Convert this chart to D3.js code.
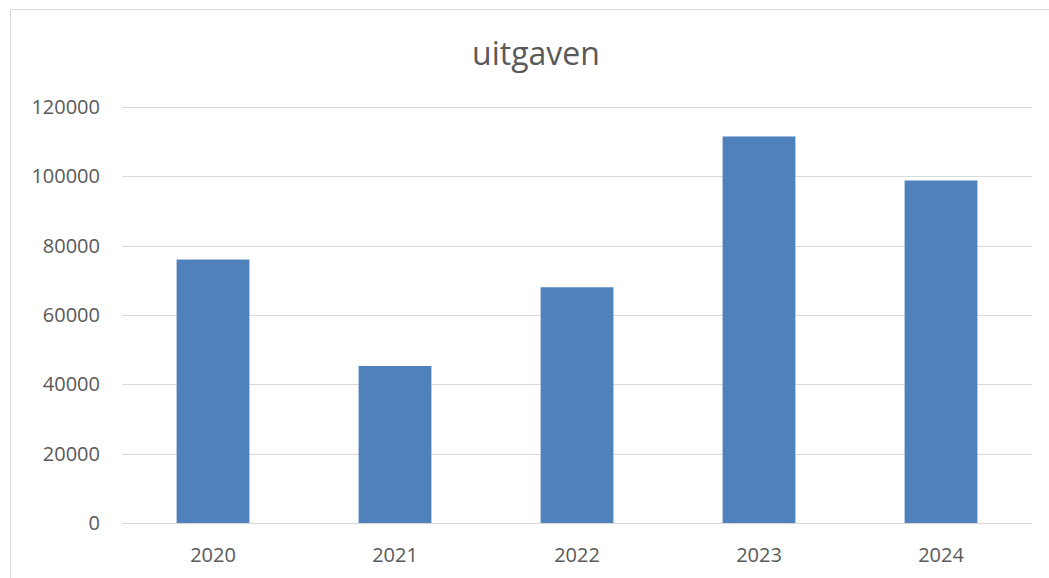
<!DOCTYPE html>
<html>
<head>
<meta charset="utf-8">
<script src="https://cdn.jsdelivr.net/npm/d3@7"></script>
<style>
  body { margin: 0; background: #fff; }
  text { font-family: "Open Sans", "Noto Sans", sans-serif; fill: #595959; }
</style>
</head>
<body>
<div id="chart"></div>
<script>
// data
const years = ["2020", "2021", "2022", "2023", "2024"]
const uitgaven = [76000, 45300, 68000, 111500, 98800]
const yTicks = [0, 20000, 40000, 60000, 80000, 100000, 120000]

const width = 1049
const height = 578
const margin = { top: 107, bottom: 55, right: 17, left: 122 }

const svg = d3.select("div#chart").append("svg").attr("width", width).attr("height", height)

// chart border (extends beyond window right/bottom)
svg.append("rect")
    .attr("x", 10.5).attr("y", 9.5)
    .attr("width", 1200).attr("height", 800)
    .attr("fill", "none").attr("stroke", "#d9d9d9").attr("stroke-width", 1)

const x = d3.scaleBand().domain(years).range([margin.left, width - margin.right]).paddingInner(0.6).paddingOuter(0.3)
const y = d3.scaleLinear().domain([0, 120000]).range([height - margin.bottom, margin.top])

// gridlines
svg.append("g").selectAll("line").data(yTicks).join("line")
    .attr("x1", margin.left).attr("x2", width - margin.right)
    .attr("y1", d => Math.round(y(d)) + 0.5).attr("y2", d => Math.round(y(d)) + 0.5)
    .attr("stroke", "#d9d9d9").attr("stroke-width", 1)

// y labels
svg.append("g").selectAll("text").data(yTicks).join("text")
    .attr("x", 100).attr("y", d => y(d))
    .attr("dy", "0.35em").attr("text-anchor", "end")
    .attr("font-size", 20)
    .text(d => d)

// bars
svg.append("g").selectAll("rect").data(uitgaven).join("rect")
    .attr("x", (d, i) => x(years[i]))
    .attr("y", d => y(d))
    .attr("width", x.bandwidth())
    .attr("height", d => y(0) - y(d))
    .attr("fill", "#4f81bd")

// x labels
svg.append("g").selectAll("text").data(years).join("text")
    .attr("x", d => x(d) + x.bandwidth() / 2)
    .attr("y", 555)
    .attr("dy", "0.35em").attr("text-anchor", "middle")
    .attr("font-size", 20)
    .text(d => d)

// title
svg.append("text")
    .attr("x", 536).attr("y", 54)
    .attr("dy", "0.35em").attr("text-anchor", "middle")
    .attr("font-size", 32)
    .text("uitgaven")
</script>
</body>
</html>
